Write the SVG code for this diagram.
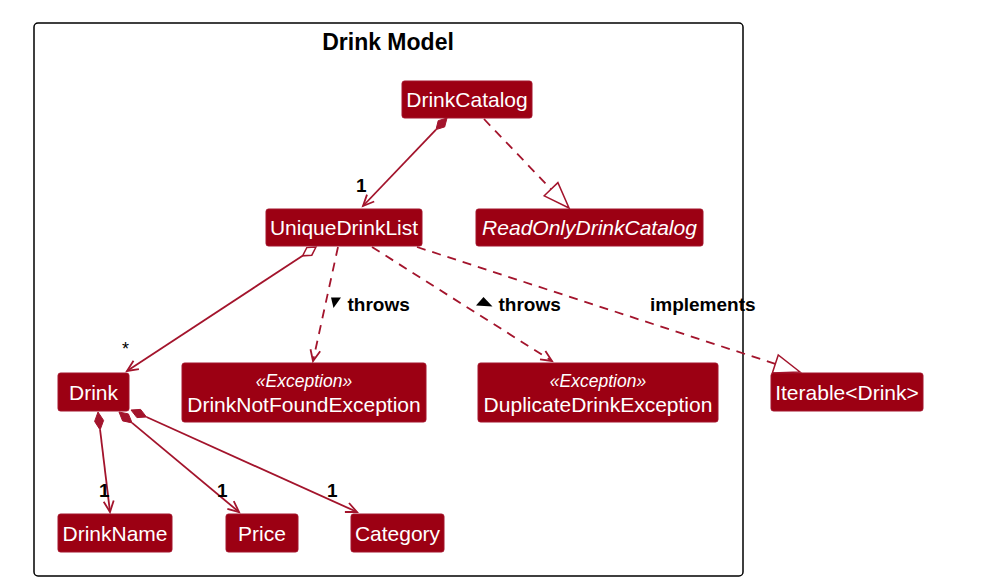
<svg xmlns="http://www.w3.org/2000/svg" width="1008" height="585" viewBox="0 0 1008 585">
<style>
.box{fill:#9C0013;stroke:#A3142C;stroke-width:1}
.t{font-family:"Liberation Sans",Arial,sans-serif;font-size:21px;fill:#ffffff;text-anchor:middle}
.it{font-style:italic}
.st{font-family:"Liberation Sans",Arial,sans-serif;font-size:17.5px;font-style:italic;fill:#ffffff;text-anchor:middle}
.lbl{font-family:"Liberation Sans",Arial,sans-serif;font-size:19px;font-weight:bold;fill:#000000}
.ln{fill:none;stroke:#A3142C;stroke-width:1.8}
.dash{stroke-dasharray:9 7}
.fd{fill:#A3142C;stroke:#A3142C;stroke-width:1}
.hd{fill:#ffffff;stroke:#A3142C;stroke-width:1.5}
</style>
<rect x="0" y="0" width="1008" height="585" fill="#ffffff"/>
<g id="frame">
<rect x="34" y="23" width="709" height="553" rx="4" fill="none" stroke="#000000" stroke-width="1.5"/>
<text x="388" y="50" font-family="Liberation Sans,Arial,sans-serif" font-size="23" font-weight="bold" text-anchor="middle" fill="#000000">Drink Model</text>
</g>
<g id="connectors">
<polygon class="fd" points="447,118 444.7,126.9 436,129.6 438.2,120.7"/>
<line class="ln" x1="436" y1="129.6" x2="363" y2="206"/>
<polyline class="ln" points="374.2,201.5 363,206 367,194.6"/>
<text class="lbl" x="356" y="191.5">1</text>
<line class="ln dash" x1="484" y1="119" x2="551" y2="189.2"/>
<polygon class="hd" points="569,208 544.2,195.8 557.9,182.6"/>
<polygon class="hd" points="316,247 311.8,255.2 302.6,255.8 306.8,247.6"/>
<line class="ln" x1="302.6" y1="255.8" x2="127" y2="371"/>
<polyline class="ln" points="138.9,369.1 127,371 133.5,360.8"/>
<text x="122" y="355" font-family="Liberation Sans,Arial,sans-serif" font-size="18" fill="#000000">*</text>
<line class="ln dash" x1="338" y1="247" x2="313" y2="361"/>
<polyline class="ln" points="320.2,351.3 313,361 310.5,349.2"/>
<polygon points="331,297.5 341,297.5 333.5,308" fill="#000000"/>
<text class="lbl" x="347.5" y="311">throws</text>
<line class="ln dash" x1="372" y1="247" x2="552" y2="361"/>
<polyline class="ln" points="540,359.3 552,361 545.4,350.9"/>
<polygon points="483.5,297 476,305.5 492.5,306.5" fill="#000000"/>
<text class="lbl" x="498.5" y="311">throws</text>
<line class="ln dash" x1="417" y1="247" x2="775.3" y2="363.9"/>
<polygon class="hd" points="800,372 772.35,372.9 778.25,354.9"/>
<text class="lbl" x="650" y="311">implements</text>
<polygon class="fd" points="98,412 103.6,420.4 100.1,429.9 94.6,421.4"/>
<line class="ln" x1="100.1" y1="429.9" x2="110" y2="512"/>
<polyline class="ln" points="103.7,501.7 110,512 113.7,500.5"/>
<text class="lbl" x="99" y="497">1</text>
<polygon class="fd" points="119,412 128.4,413.9 132.1,422.9 122.6,420.9"/>
<line class="ln" x1="132.1" y1="422.9" x2="239" y2="512"/>
<polyline class="ln" points="227.35,508.8 239,512 233.75,501.1"/>
<text class="lbl" x="217" y="497">1</text>
<polygon class="fd" points="131,410 140.6,409.4 146.5,417 136.9,417.6"/>
<line class="ln" x1="146.5" y1="417" x2="357" y2="512"/>
<polyline class="ln" points="344.9,512 357,512 349,503"/>
<text class="lbl" x="327" y="497">1</text>
</g>
<g id="DrinkCatalog">
<rect class="box" x="402" y="81" width="130" height="37" rx="2.5"/>
<text class="t" x="467" y="107">DrinkCatalog</text>
</g>
<g id="UniqueDrinkList">
<rect class="box" x="266" y="209" width="156" height="37" rx="2.5"/>
<text class="t" x="344" y="235">UniqueDrinkList</text>
</g>
<g id="ReadOnlyDrinkCatalog">
<rect class="box" x="476" y="209" width="227" height="37" rx="2.5"/>
<text class="t it" x="589.5" y="235">ReadOnlyDrinkCatalog</text>
</g>
<g id="Drink">
<rect class="box" x="58" y="373" width="71" height="38" rx="2.5"/>
<text class="t" x="93.5" y="400">Drink</text>
</g>
<g id="DrinkNotFoundException">
<rect class="box" x="182" y="363" width="244" height="59" rx="2.5"/>
<text class="st" x="304" y="387">«Exception»</text>
<text class="t" x="304" y="411.5">DrinkNotFoundException</text>
</g>
<g id="DuplicateDrinkException">
<rect class="box" x="478" y="363" width="240" height="59" rx="2.5"/>
<text class="st" x="598" y="387">«Exception»</text>
<text class="t" x="598" y="411.5">DuplicateDrinkException</text>
</g>
<g id="IterableDrink">
<rect class="box" x="771" y="373" width="152" height="38" rx="2.5"/>
<text class="t" x="847" y="400">Iterable&lt;Drink&gt;</text>
</g>
<g id="DrinkName">
<rect class="box" x="58" y="514" width="114" height="38" rx="2.5"/>
<text class="t" x="115" y="541">DrinkName</text>
</g>
<g id="Price">
<rect class="box" x="226" y="514" width="72" height="38" rx="2.5"/>
<text class="t" x="262" y="541">Price</text>
</g>
<g id="Category">
<rect class="box" x="351" y="514" width="93" height="38" rx="2.5"/>
<text class="t" x="397.5" y="541">Category</text>
</g>
</svg>
